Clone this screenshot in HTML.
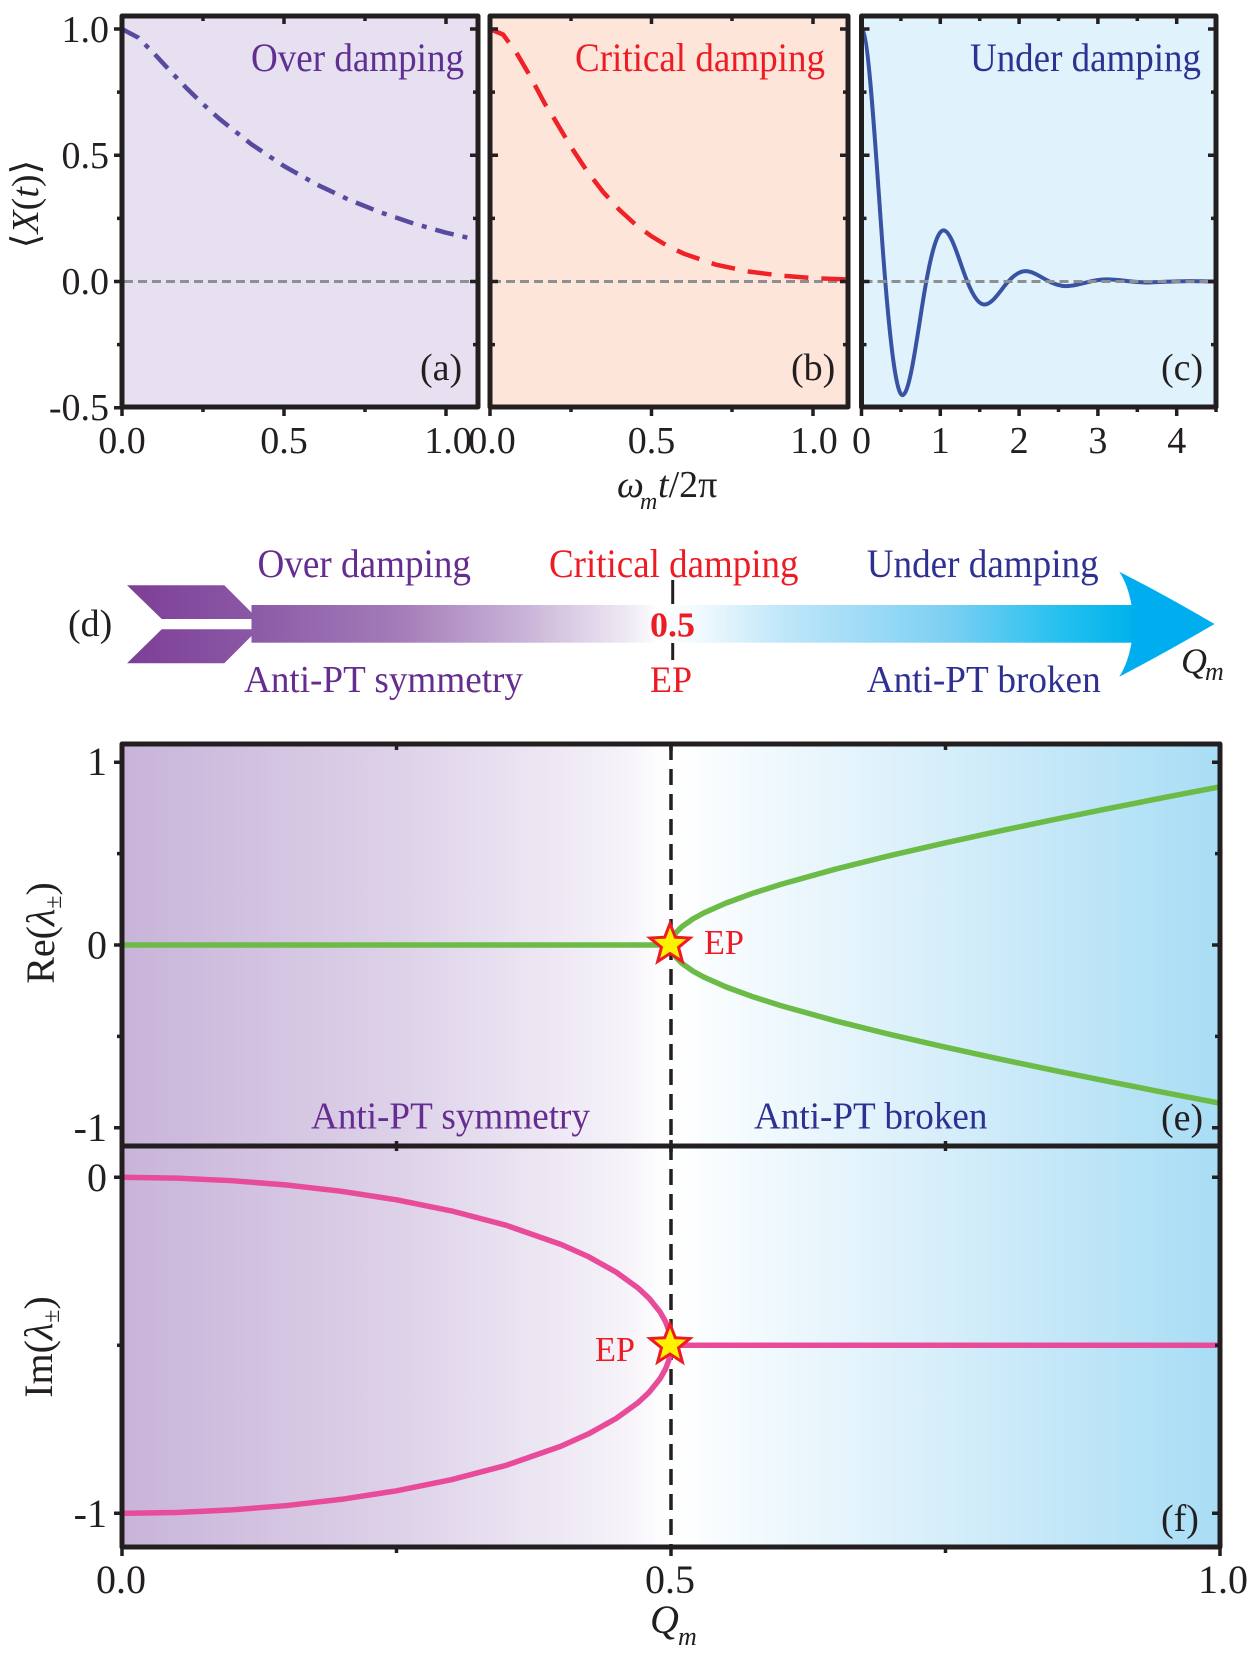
<!DOCTYPE html>
<html><head><meta charset="utf-8"><style>html,body{margin:0;padding:0;background:#fff}svg{display:block}</style></head>
<body>
<svg width="1252" height="1656" viewBox="0 0 1252 1656" xmlns="http://www.w3.org/2000/svg" font-family="'Liberation Serif','DejaVu Serif',serif">
<defs>
<linearGradient id="gef" x1="122" y1="0" x2="1220" y2="0" gradientUnits="userSpaceOnUse">
<stop offset="0" stop-color="#c8b4d9"/><stop offset="0.25" stop-color="#ddd1e8"/><stop offset="0.45" stop-color="#f4f1f8"/><stop offset="0.5" stop-color="#ffffff"/><stop offset="0.56" stop-color="#f5fbfe"/><stop offset="0.75" stop-color="#d6eefa"/><stop offset="1" stop-color="#a8ddf5"/>
</linearGradient>
<linearGradient id="gbar" x1="251.5" y1="0" x2="1131" y2="0" gradientUnits="userSpaceOnUse">
<stop offset="0" stop-color="#8b5aa6"/><stop offset="0.168" stop-color="#a47cb9"/><stop offset="0.304" stop-color="#c7b1d6"/><stop offset="0.426" stop-color="#eee8f3"/><stop offset="0.465" stop-color="#ffffff"/><stop offset="0.51" stop-color="#f0f9fe"/><stop offset="0.608" stop-color="#bee6f9"/><stop offset="0.789" stop-color="#7dd0f3"/><stop offset="0.925" stop-color="#22c0ee"/><stop offset="1" stop-color="#00b3ec"/>
</linearGradient>
<linearGradient id="gchev" x1="127" y1="0" x2="251" y2="0" gradientUnits="userSpaceOnUse">
<stop offset="0" stop-color="#7c3f97"/><stop offset="1" stop-color="#8b57a5"/>
</linearGradient>
<clipPath id="ca"><rect x="122" y="16" width="356" height="391"/></clipPath>
<clipPath id="cb"><rect x="490" y="16" width="358" height="391"/></clipPath>
<clipPath id="cc"><rect x="861.5" y="16" width="354.5" height="391"/></clipPath>
<clipPath id="cef"><rect x="122" y="744" width="1098" height="803"/></clipPath>
</defs>

<!-- Top panels backgrounds -->
<rect x="122" y="16" width="356" height="391" fill="#e6e0f0"/>
<rect x="490" y="16" width="358" height="391" fill="#fde5da"/>
<rect x="861.5" y="16" width="354.5" height="391" fill="#e0f2fc"/>

<!-- zero lines a, b -->
<g stroke="#8d8f92" stroke-width="3" stroke-dasharray="9 5" fill="none">
<path d="M124,281.5H476"/>
<path d="M492,281.5H846"/>
</g>

<!-- curve a -->
<g clip-path="url(#ca)">
<path d="M122,29 L138.2,37.6 L154.4,53.9 L170.6,71.4 L186.8,88.4 L203,104.1 L219.2,118.7 L251.6,144.4 L284,166.1 L316.4,184.3 L348.8,199.7 L381.2,212.6 L413.6,223.5 L446,232.7 L480,240.5" fill="none" stroke="#5a4a9f" stroke-width="4.5" stroke-dasharray="19 9 5 9"/>
</g>
<!-- curve b -->
<g clip-path="url(#cb)">
<path d="M490,29 L503,34.5 L516,52 L530,76 L545,104 L554.6,119.3 L570.75,146.5 L586.9,170.9 L603.05,191.9 L619.2,209.6 L635.35,224.4 L651.5,236.3 L667.65,246 L683.8,253.7 L716.1,264.7 L748.4,271.5 L780.7,275.6 L813,278.1 L850,279.6" fill="none" stroke="#ee2227" stroke-width="4.5" stroke-dasharray="24 13"/>
</g>
<!-- curve c -->
<g clip-path="url(#cc)">
<path d="M861.5,29 C868.33,29 875.16,144.02 881.99,238.45 C888.82,332.88 895.66,395.15 902.49,395.15 C909.32,395.15 916.15,343.38 922.98,300.87 C929.81,258.36 936.65,230.34 943.48,230.34 C950.31,230.34 957.14,253.66 963.97,272.79 C970.8,291.92 977.64,304.53 984.47,304.53 C991.3,304.53 998.13,294.04 1004.96,285.43 C1011.79,276.82 1018.63,271.15 1025.46,271.15 C1032.29,271.15 1039.12,275.86 1045.95,279.73 C1052.78,283.6 1059.62,286.16 1066.45,286.16 C1073.28,286.16 1080.11,284.04 1086.94,282.3 C1093.77,280.56 1100.61,279.4 1107.44,279.4 C1114.27,279.4 1121.1,280.35 1127.93,281.14 C1134.76,281.93 1141.6,282.44 1148.43,282.44 C1155.26,282.44 1162,281.8 1168.9,281.66 C1175.7,281.5 1182.6,281.08 1189.4,281.08 C1198,281.08 1207,281.5 1218,281.5" fill="none" stroke="#3853a4" stroke-width="4"/>
</g>
<path d="M863.5,281.5H1214" stroke="#8d8f92" stroke-width="3" stroke-dasharray="9 5" fill="none"/>

<!-- frames top -->
<g fill="none" stroke="#231f20" stroke-width="5" stroke-linejoin="round">
<rect x="122" y="16" width="356" height="391"/>
<rect x="490" y="16" width="358" height="391"/>
<rect x="861.5" y="16" width="354.5" height="391"/>
</g>
<!-- ticks top -->
<g fill="none" stroke="#231f20" stroke-width="3.5">
<path d="M114,29H122M114,155.25H122M114,281.5H122M114,407.75H122M117,92.1H122M117,218.4H122M117,344.6H122
M470,29H478M470,155.25H478M470,281.5H478M473,92.1H478M473,218.4H478M473,344.6H478
M284,16V24M446,16V24M203,16V21M365,16V21
M122,407V416M284,407V416M446,407V416M203,407V412M365,407V412"/>
<path d="M490,29H498M490,155.25H498M490,281.5H498M490,92.1H495M490,218.4H495M490,344.6H495
M840,29H848M840,155.25H848M840,281.5H848M843,92.1H848M843,218.4H848M843,344.6H848
M651.5,16V24M813,16V24M571,16V21M732,16V21
M490,407V416M651.5,407V416M813,407V416M571,407V412M732,407V412"/>
<path d="M861.5,29H869.5M861.5,155.25H869.5M861.5,281.5H869.5M861.5,92.1H866.5M861.5,218.4H866.5M861.5,344.6H866.5
M1208,29H1216M1208,155.25H1216M1208,281.5H1216M1211,92.1H1216M1211,218.4H1216M1211,344.6H1216
M940.3,16V24M1019.1,16V24M1097.9,16V24M1176.7,16V24M900.9,16V21M979.7,16V21M1058.5,16V21M1137.3,16V21
M861.5,407V416M940.3,407V416M1019.1,407V416M1097.9,407V416M1176.7,407V416M900.9,407V412M979.7,407V412M1058.5,407V412M1137.3,407V412M1216,407V412"/>
</g>

<!-- top tick labels -->
<g font-size="38" fill="#231f20" text-anchor="end">
<text x="109" y="42">1.0</text>
<text x="109" y="168">0.5</text>
<text x="109" y="294">0.0</text>
<text x="109" y="420">-0.5</text>
</g>
<g font-size="38" fill="#231f20" text-anchor="middle">
<text x="122" y="453">0.0</text>
<text x="284" y="453">0.5</text>
<text x="448" y="453">1.0</text>
<text x="492" y="453">0.0</text>
<text x="651.5" y="453">0.5</text>
<text x="814" y="453">1.0</text>
<text x="861.5" y="453">0</text>
<text x="940.3" y="453">1</text>
<text x="1019.1" y="453">2</text>
<text x="1097.9" y="453">3</text>
<text x="1176.7" y="453">4</text>
</g>
<text transform="translate(38,204) rotate(-90)" text-anchor="middle" font-size="38" fill="#231f20" font-family="'Liberation Serif','DejaVu Serif','DejaVu Sans',serif">⟨<tspan font-style="italic">X</tspan>(<tspan font-style="italic">t</tspan>)⟩</text>
<text y="497" font-size="38" fill="#231f20"><tspan x="617" font-style="italic">ω</tspan><tspan x="640" y="509" font-size="24" font-style="italic">m</tspan><tspan x="658" y="497" font-style="italic">t</tspan><tspan>/2π</tspan></text>

<!-- top panel titles -->
<text x="251" y="71" font-size="40" fill="#5f2f91" textLength="213" lengthAdjust="spacingAndGlyphs">Over damping</text>
<text x="575" y="71" font-size="40" fill="#ed1c24" textLength="250" lengthAdjust="spacingAndGlyphs">Critical damping</text>
<text x="970" y="71" font-size="40" fill="#2e3192" textLength="231" lengthAdjust="spacingAndGlyphs">Under damping</text>
<g font-size="38" fill="#231f20">
<text x="420" y="380">(a)</text>
<text x="791" y="380">(b)</text>
<text x="1161" y="380">(c)</text>
</g>

<!-- (d) arrow -->
<text x="68" y="636" font-size="38" fill="#231f20">(d)</text>
<polygon points="127,585.3 224.3,585.3 251.5,612.5 251.5,619 161.7,619" fill="url(#gchev)"/>
<polygon points="161.7,629.3 251.5,629.3 251.5,636 224.3,663.3 127,663.3" fill="url(#gchev)"/>
<rect x="251.5" y="605" width="880" height="37.7" fill="url(#gbar)"/>
<path d="M1131.5,605 Q1128,585 1119.3,571.7 Q1163,594 1214.5,624 Q1163,654 1119.3,676.7 Q1128,663 1131.5,642.7 Z" fill="#00aeef"/>
<path d="M672.7,580V604M672.7,643V660" stroke="#231f20" stroke-width="3"/>
<text x="650" y="636.5" font-size="35" font-weight="bold" fill="#ed1c24" textLength="45" lengthAdjust="spacingAndGlyphs">0.5</text>
<text x="257.5" y="577" font-size="40" fill="#662d91" textLength="213.5" lengthAdjust="spacingAndGlyphs">Over damping</text>
<text x="549" y="577" font-size="40" fill="#ed1c24" textLength="249.5" lengthAdjust="spacingAndGlyphs">Critical damping</text>
<text x="866.7" y="577" font-size="40" fill="#2e3192" textLength="232" lengthAdjust="spacingAndGlyphs">Under damping</text>
<text x="244" y="692" font-size="38" fill="#662d91" textLength="279" lengthAdjust="spacingAndGlyphs">Anti-PT symmetry</text>
<text x="650" y="692" font-size="37" fill="#ed1c24" textLength="42" lengthAdjust="spacingAndGlyphs">EP</text>
<text x="866.7" y="692" font-size="38" fill="#2e3192" textLength="234" lengthAdjust="spacingAndGlyphs">Anti-PT broken</text>
<text x="1181" y="673" font-size="36" font-style="italic" fill="#231f20">Q</text>
<text x="1205" y="680" font-size="26" font-style="italic" fill="#231f20">m</text>

<!-- bottom panels -->
<rect x="122" y="744" width="1098" height="803" fill="url(#gef)"/>
<g clip-path="url(#cef)">
<path d="M671,744V1547" stroke="#231f20" stroke-width="3.5" stroke-dasharray="16 9" fill="none"/>
<g fill="none" stroke="#6cbb46" stroke-width="5.5" stroke-linejoin="round">
<path d="M122,945 L671,945"/>
<path d="M671,945 L672.1,939.2 L673.2,936.8 L676.49,932.04 L681.98,926.63 L692.96,918.9 L703.94,912.86 L725.9,903.12 L753.35,893.1 L780.8,884.37 L835.7,869.08 L890.6,855.45 L945.5,842.81 L1000.4,830.84 L1055.3,819.34 L1110.2,808.21 L1165.1,797.33 L1222,786.4"/>
<path d="M671,945 L672.1,950.8 L673.2,953.2 L676.49,957.96 L681.98,963.37 L692.96,971.1 L703.94,977.14 L725.9,986.88 L753.35,996.9 L780.8,1005.63 L835.7,1020.92 L890.6,1034.55 L945.5,1047.19 L1000.4,1059.16 L1055.3,1070.66 L1110.2,1081.79 L1165.1,1092.67 L1222,1103.6"/>
</g>
<g fill="none" stroke="#e94b9b" stroke-width="5.5" stroke-linejoin="round">
<path d="M122,1177.3 L176.9,1178.14 L231.8,1180.69 L286.7,1185.03 L341.6,1191.31 L396.5,1199.81 L451.4,1210.9 L506.3,1225.32 L561.2,1244.5 L588.65,1256.8 L616.1,1272.09 L638.06,1287.98 L649.04,1298.26 L660.02,1311.87 L665.51,1321.6 L668.8,1330.29 L670.45,1337.8 L671,1345.3 L670.45,1352.8 L668.8,1360.31 L665.51,1369 L660.02,1378.73 L649.04,1392.34 L638.06,1402.62 L616.1,1418.51 L588.65,1433.8 L561.2,1446.1 L506.3,1465.28 L451.4,1479.7 L396.5,1490.79 L341.6,1499.29 L286.7,1505.57 L231.8,1509.91 L176.9,1512.46 L122,1513.3"/>
<path d="M671,1345.3 L1222,1345.3"/>
</g>
</g>
<!-- stars -->
<g fill="#fff200" stroke="#ed1c24" stroke-width="3" stroke-linejoin="miter">
<polygon transform="translate(670,944.5)" points="0,-21 5.29,-7.28 19.97,-6.49 8.56,2.78 12.34,16.99 0,9 -12.34,16.99 -8.56,2.78 -19.97,-6.49 -5.29,-7.28"/>
<polygon transform="translate(670,1345)" points="0,-21 5.29,-7.28 19.97,-6.49 8.56,2.78 12.34,16.99 0,9 -12.34,16.99 -8.56,2.78 -19.97,-6.49 -5.29,-7.28"/>
</g>

<!-- frames bottom -->
<g fill="none" stroke="#231f20" stroke-width="5" stroke-linejoin="round">
<rect x="122" y="744" width="1098" height="402"/>
<rect x="122" y="1146" width="1098" height="401"/>
</g>
<g fill="none" stroke="#231f20" stroke-width="3.5">
<path d="M114,762.2H122M114,945H122M114,1127.8H122M117,853.6H122M117,1036.4H122
M1212,762.2H1220M1212,945H1220M1212,1127.8H1220M1215,853.6H1220M1215,1036.4H1220
M396.5,744V750M945.5,744V750M671,744V751
M396.5,1141V1151M945.5,1141V1151M671,1140V1152
M114,1177.3H122M114,1513.3H122M117,1345.3H122
M1212,1177.3H1220M1212,1513.3H1220M1215,1345.3H1220
M122,1547V1556M671,1547V1556M1220,1547V1556M396.5,1547V1553M945.5,1547V1553"/>
</g>

<!-- bottom tick labels -->
<g font-size="40" fill="#231f20" text-anchor="end">
<text x="107" y="775">1</text>
<text x="107" y="958.5">0</text>
<text x="107" y="1141">-1</text>
<text x="107" y="1191">0</text>
<text x="107" y="1527">-1</text>
</g>
<g font-size="40" fill="#231f20" text-anchor="middle">
<text x="121" y="1593">0.0</text>
<text x="670" y="1593">0.5</text>
<text x="1223" y="1593">1.0</text>
</g>
<text x="650" y="1633" font-size="40" font-style="italic" fill="#231f20">Q</text>
<text x="678" y="1645" font-size="26" font-style="italic" fill="#231f20">m</text>
<text transform="translate(54,933) rotate(-90)" text-anchor="middle" font-size="40" fill="#231f20">Re(<tspan font-style="italic">λ</tspan><tspan font-size="24" dy="7">±</tspan><tspan dy="-7">)</tspan></text>
<text transform="translate(52,1347) rotate(-90)" text-anchor="middle" font-size="40" fill="#231f20">Im(<tspan font-style="italic">λ</tspan><tspan font-size="24" dy="7">±</tspan><tspan dy="-7">)</tspan></text>

<text x="311" y="1128.5" font-size="38" fill="#662d91" textLength="279" lengthAdjust="spacingAndGlyphs">Anti-PT symmetry</text>
<text x="754" y="1128.5" font-size="38" fill="#2e3192" textLength="233.5" lengthAdjust="spacingAndGlyphs">Anti-PT broken</text>
<text x="704" y="954" font-size="35" fill="#ed1c24" textLength="40" lengthAdjust="spacingAndGlyphs">EP</text>
<text x="595" y="1361" font-size="35" fill="#ed1c24" textLength="40" lengthAdjust="spacingAndGlyphs">EP</text>
<text x="1161" y="1130" font-size="38" fill="#231f20">(e)</text>
<text x="1161" y="1531" font-size="38" fill="#231f20">(f)</text>
</svg>
</body></html>
